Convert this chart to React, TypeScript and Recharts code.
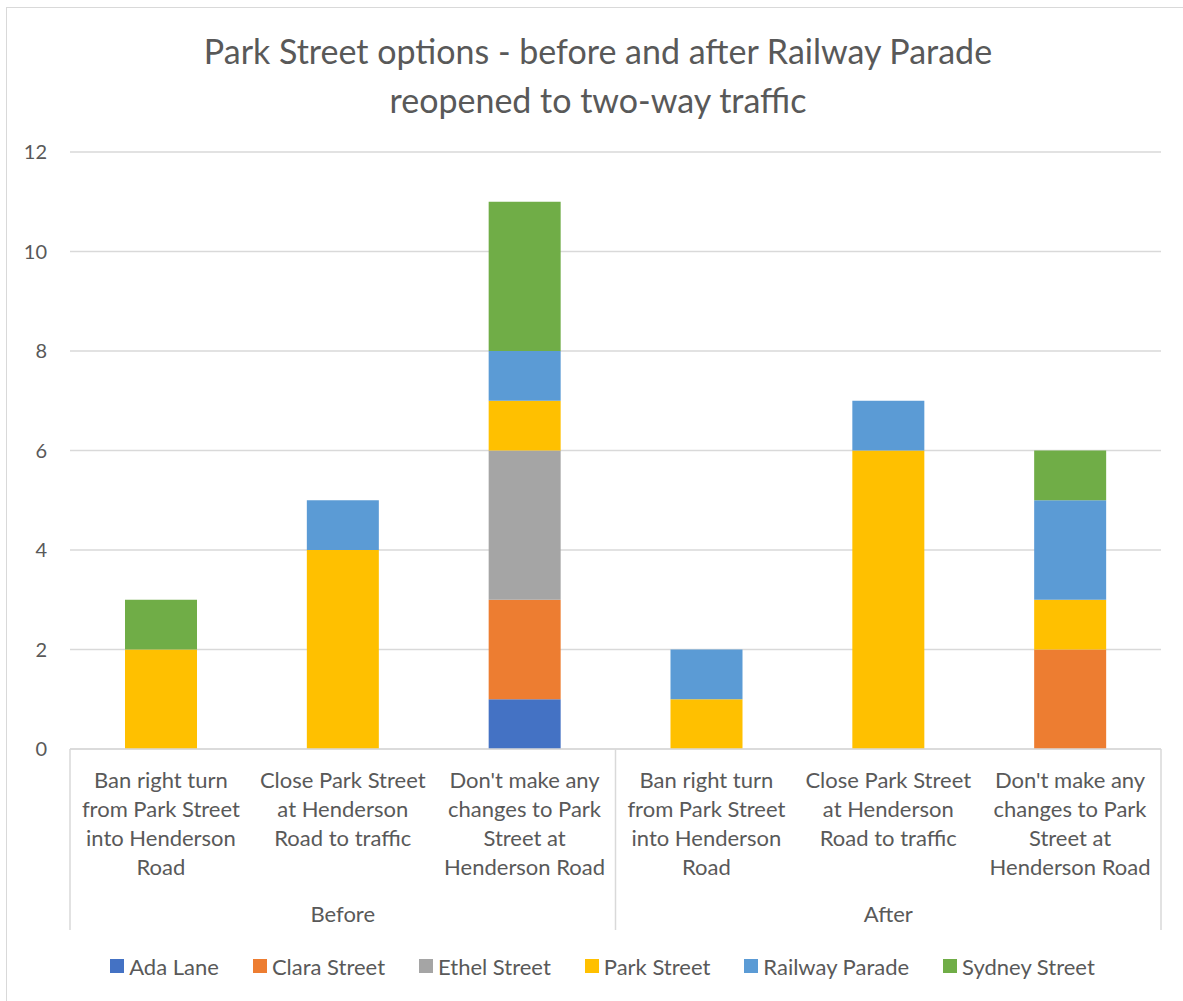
import React from "react";
import { BarChart, Bar, XAxis, YAxis, CartesianGrid, Legend } from "recharts";

const groups = ["Before", "After"];
const optionLines = [
  ["Ban right turn", "from Park Street", "into Henderson", "Road"],
  ["Close Park Street", "at Henderson", "Road to traffic"],
  ["Don't make any", "changes to Park", "Street at", "Henderson Road"],
];

const adaLane = [0, 0, 1, 0, 0, 0];
const claraStreet = [0, 0, 2, 0, 0, 2];
const ethelStreet = [0, 0, 3, 0, 0, 0];
const parkStreet = [2, 4, 1, 1, 6, 1];
const railwayParade = [0, 1, 1, 1, 1, 2];
const sydneyStreet = [1, 0, 3, 0, 0, 1];

const yTicks = [0, 2, 4, 6, 8, 10, 12];

const series = [
  { name: "Ada Lane", values: adaLane, color: "#4472C4" },
  { name: "Clara Street", values: claraStreet, color: "#ED7D31" },
  { name: "Ethel Street", values: ethelStreet, color: "#A5A5A5" },
  { name: "Park Street", values: parkStreet, color: "#FFC000" },
  { name: "Railway Parade", values: railwayParade, color: "#5B9BD5" },
  { name: "Sydney Street", values: sydneyStreet, color: "#70AD47" },
];

const data = groups.flatMap((g, gi) =>
  optionLines.map((_, oi) => {
    const idx = gi * optionLines.length + oi;
    const row: any = { key: `${g}-${oi}`, group: g, option: oi };
    series.forEach((s) => (row[s.name] = s.values[idx]));
    return row;
  })
);

const W = 1183;
const H = 1001;
const FONT = "Lato, 'Open Sans', sans-serif";
const TEXT = "#595959";
const LINE = "#D9D9D9";
const PLOT_LEFT = 70;
const PLOT_RIGHT = 1161;
const BAND = (PLOT_RIGHT - PLOT_LEFT) / data.length;

const CategoryTick = (props: any) => {
  const { x, y, payload } = props;
  const i = payload.index;
  const row = data[i];
  const lines = optionLines[row.option];
  const top = y - 8; // axis line
  return (
    <g>
      {lines.map((l, k) => (
        <text
          key={k}
          x={x}
          y={top + 39 + k * 29}
          textAnchor="middle"
          fill={TEXT}
          fontSize={22}
          fontFamily={FONT}
        >
          {l}
        </text>
      ))}
      {row.option === 1 && (
        <text x={x} y={top + 173} textAnchor="middle" fill={TEXT} fontSize={22} fontFamily={FONT}>
          {row.group}
        </text>
      )}
      {row.option === 0 && <line x1={x - BAND / 2} x2={x - BAND / 2} y1={top} y2={top + 181} stroke={LINE} strokeWidth={1.5} />}
      {i === data.length - 1 && (
        <line x1={x + BAND / 2} x2={x + BAND / 2} y1={top} y2={top + 181} stroke={LINE} strokeWidth={1.5} />
      )}
    </g>
  );
};

const LegendContent = () => (
  <div
    style={{
      height: 70,
      display: "flex",
      justifyContent: "center",
      alignItems: "center",
      gap: 34,
      fontFamily: FONT,
      fontSize: 22,
      color: TEXT,
      paddingLeft: 44,
    }}
  >
    {series.map((s) => (
      <div key={s.name} style={{ display: "flex", alignItems: "center" }}>
        <span style={{ width: 14, height: 14, background: s.color, display: "inline-block", marginRight: 5 }} />
        <span>{s.name}</span>
      </div>
    ))}
  </div>
);

export default function App() {
  return (
    <div style={{ position: "absolute", left: 0, top: 0, width: W, height: H, background: "#fff", overflow: "hidden" }}>
      <div
        style={{
          position: "absolute",
          left: 6,
          top: 7,
          width: W + 20,
          height: H + 20,
          border: `1.5px solid ${LINE}`,
          boxSizing: "border-box",
        }}
      />
      <div
        style={{
          position: "absolute",
          left: 0,
          width: 1196,
          top: 26,
          textAlign: "center",
          fontFamily: FONT,
          fontSize: 34,
          lineHeight: "49px",
          color: TEXT,
        }}
      >
        Park Street options - before and after Railway Parade
        <br />
        reopened to two-way traffic
      </div>
      <BarChart
        width={W}
        height={H}
        data={data}
        margin={{ top: 152, right: W - PLOT_RIGHT, bottom: 0, left: 0 }}
        style={{ position: "absolute", left: 0, top: 0 }}
      >
        <CartesianGrid vertical={false} stroke={LINE} strokeWidth={1.5} />
        <XAxis
          dataKey="key"
          interval={0}
          tickLine={false}
          axisLine={{ stroke: LINE, strokeWidth: 1.5 }}
          height={182}
          tick={<CategoryTick />}
        />
        <YAxis
          domain={[0, 12]}
          ticks={yTicks}
          width={PLOT_LEFT}
          axisLine={false}
          tickLine={false}
          tickMargin={17}
          tick={{ fill: TEXT, fontSize: 20, fontFamily: FONT }}
        />
        <Legend verticalAlign="bottom" content={<LegendContent />} />
        {series.map((s) => (
          <Bar key={s.name} dataKey={s.name} stackId="a" fill={s.color} barSize={72} isAnimationActive={false} />
        ))}
      </BarChart>
    </div>
  );
}
